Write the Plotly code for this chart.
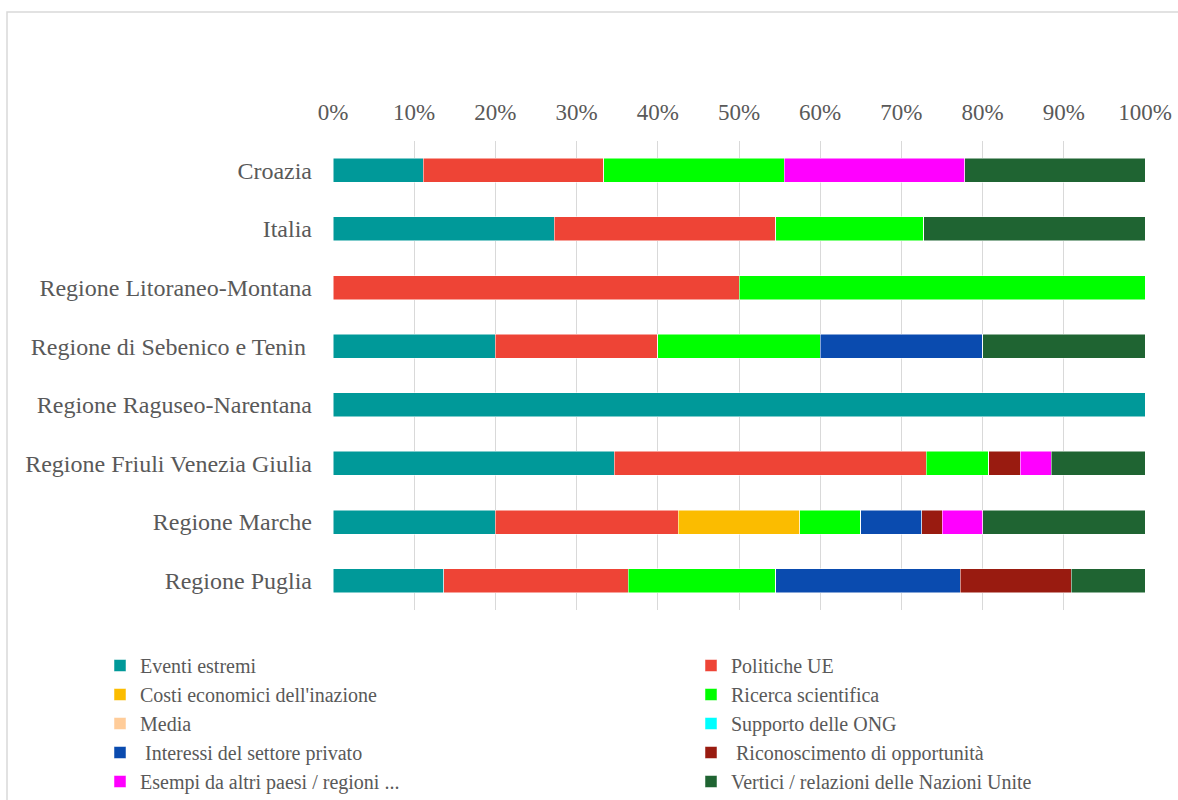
import plotly.graph_objects as go

# categories, top to bottom
regions = ["Croazia", "Italia", "Regione Litoraneo-Montana", "Regione di Sebenico e Tenin ",
           "Regione Raguseo-Narentana", "Regione Friuli Venezia Giulia", "Regione Marche",
           "Regione Puglia"]

# number of mentions per motivation (bars are normalised to 100%)
eventi_estremi = [1, 3, 0, 1, 1, 9, 8, 3]
politiche_ue = [2, 3, 1, 1, 0, 10, 9, 5]
costi_inazione = [0, 0, 0, 0, 0, 0, 6, 0]
ricerca_scientifica = [2, 2, 1, 1, 0, 2, 3, 4]
media = [0, 0, 0, 0, 0, 0, 0, 0]
supporto_ong = [0, 0, 0, 0, 0, 0, 0, 0]
interessi_privato = [0, 0, 0, 1, 0, 0, 3, 5]
riconoscimento = [0, 0, 0, 0, 0, 1, 1, 3]
esempi_altri = [2, 0, 0, 0, 0, 1, 2, 0]
vertici_onu = [2, 3, 0, 1, 0, 3, 8, 2]

series = [
    ("Eventi estremi", eventi_estremi, "#009999"),
    ("Politiche UE", politiche_ue, "#EE4436"),
    ("Costi economici dell'inazione", costi_inazione, "#FBBC00"),
    ("Ricerca scientifica", ricerca_scientifica, "#00FF00"),
    ("Media", media, "#FFCC99"),
    ("Supporto delle ONG", supporto_ong, "#00FFFF"),
    (" Interessi del settore privato", interessi_privato, "#0A4BAF"),
    (" Riconoscimento di opportunità", riconoscimento, "#991B10"),
    ("Esempi da altri paesi / regioni ...", esempi_altri, "#FF00FF"),
    ("Vertici / relazioni delle Nazioni Unite", vertici_onu, "#1F6432"),
]

font = "Liberation Serif, Times New Roman, serif"
grey = "#595959"

fig = go.Figure()
for i, (name, vals, col) in enumerate(series):
    # legend is laid out in two columns, alternating
    fig.add_trace(go.Bar(y=regions, x=vals, name=name, orientation="h",
                         legend="legend" if i % 2 == 0 else "legend2",
                         marker=dict(color=col, line=dict(color="white", width=0.5))))

W, H = 1178, 800
L, R, T, B = 333, 33, 141, 190
pw, ph = W - L - R, H - T - B

def px_x(p):
    return (p - L) / pw

def px_y(p):
    return (H - B - p) / ph

leg = dict(xanchor="left", yanchor="top", y=px_y(646), itemwidth=30,
           font=dict(size=20, color=grey), traceorder="normal", bgcolor="rgba(0,0,0,0)")

fig.update_layout(
    width=W, height=H,
    margin=dict(l=L, r=R, t=T, b=B, autoexpand=False),
    barmode="stack", barnorm="percent", bargap=0.59,
    plot_bgcolor="white", paper_bgcolor="white",
    font=dict(family=font, size=24, color=grey),
    xaxis=dict(side="top", range=[0, 100], dtick=10, ticksuffix="%",
               showgrid=True, gridcolor="#D9D9D9", gridwidth=1,
               zeroline=False, showline=False, ticks="", ticklabelstandoff=15,
               tickfont=dict(size=23, color=grey)),
    yaxis=dict(autorange="reversed", showgrid=False, ticks="", ticklabelstandoff=20,
               tickfont=dict(size=24, color=grey)),
    legend=dict(leg, x=px_x(100)),
    legend2=dict(leg, x=px_x(691)),
    shapes=[dict(type="rect", xref="paper", yref="paper",
                 x0=px_x(7), x1=px_x(1190), y0=px_y(12), y1=px_y(810),
                 line=dict(color="#D9D9D9", width=1.5), layer="below")],
)

fig.write_html("out.html", config={"displayModeBar": False},
               post_script="document.body.style.margin='0';")
